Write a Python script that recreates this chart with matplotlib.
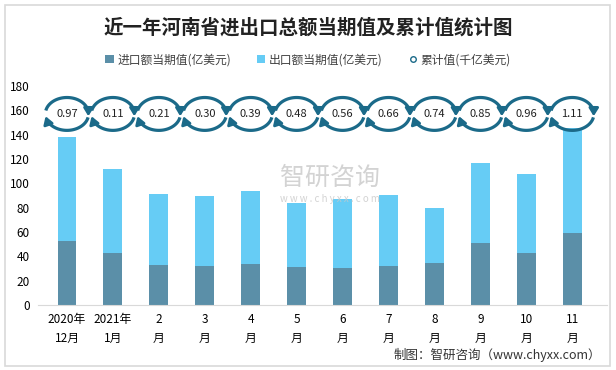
import matplotlib.pyplot as plt
from matplotlib.patches import Rectangle
import numpy as np

plt.rcParams['font.family'] = ['Noto Sans CJK SC', 'DejaVu Sans']

# data
months = ['2020年\n12月', '2021年\n1月', '2\n月', '3\n月', '4\n月', '5\n月',
          '6\n月', '7\n月', '8\n月', '9\n月', '10\n月', '11\n月']
imports = [52.6, 42.7, 32.9, 32.1, 33.7, 31.2, 30.4, 32.1, 34.5, 50.9, 42.7, 59.2]
totals = [138.0, 111.8, 91.2, 89.6, 93.7, 83.8, 87.1, 90.4, 79.7, 116.7, 107.6, 145.4]
exports = [t - i for t, i in zip(totals, imports)]
cumulative = ['0.97', '0.11', '0.21', '0.30', '0.39', '0.48', '0.56', '0.66',
              '0.74', '0.85', '0.96', '1.11']

c_imp = '#5b8fa8'
c_exp = '#66ccf5'
c_ring = '#1b6a89'

fig = plt.figure(figsize=(6.16, 3.70), dpi=100)
fig.patches.append(Rectangle((0.008, 0.012), 0.982, 0.975, transform=fig.transFigure,
                             fill=False, edgecolor='#d9d9d9', linewidth=1.2))

ax = fig.add_axes([0.0617, 0.1757, 0.924, 0.592])
x = np.arange(len(months))
b1 = ax.bar(x, imports, width=0.41, color=c_imp, label='进口额当期值(亿美元)', zorder=2)
b2 = ax.bar(x, exports, width=0.41, bottom=imports, color=c_exp, label='出口额当期值(亿美元)', zorder=2)

# cumulative value rings: two clockwise arrows around each label
ring_y = 157
rx, ry = 0.47, 13.5


def ring_arc(xc, a0, a1):
    t = np.radians(np.linspace(a0, a1, 60))
    xs = xc + rx * np.cos(t)
    ys = ring_y + ry * np.sin(t)
    ax.plot(xs[:-4], ys[:-4], color=c_ring, lw=2.3, solid_capstyle='butt', zorder=4)
    ax.annotate('', xy=(xs[-1], ys[-1]), xytext=(xs[-6], ys[-6]),
                arrowprops=dict(arrowstyle='-|>,head_length=0.45,head_width=0.28',
                                color=c_ring, lw=2.0, shrinkA=0, shrinkB=0), zorder=4)


for xi, lab in zip(x, cumulative):
    ring_arc(xi, 168, -8)
    ring_arc(xi, 348, 188)
    ax.text(xi, ring_y, lab, ha='center', va='center', fontsize=8, color='#222222', zorder=5)

ring_handle, = ax.plot([], [], 'o', markerfacecolor='white', markeredgecolor=c_ring,
                       markersize=4, label='累计值(千亿美元)')

ax.set_xlim(-0.63, 11.76)
ax.set_ylim(0, 180)
ax.set_yticks(range(0, 181, 20))
ax.set_xticks(x)
ax.set_xticklabels(months, fontsize=8.5, linespacing=1.6)
ax.tick_params(axis='y', labelsize=8.5, length=0, pad=6)
ax.tick_params(axis='x', length=0, pad=6)
for s in ['top', 'right', 'left']:
    ax.spines[s].set_visible(False)
ax.spines['bottom'].set_color('#d9d9d9')

fig.text(0.5, 0.925, '近一年河南省进出口总额当期值及累计值统计图', ha='center', va='center',
         fontsize=14, fontweight='bold', color='#222222')
fig.legend(handles=[b1, b2, ring_handle], loc='center', bbox_to_anchor=(0.5, 0.838), ncol=3,
           frameon=False, fontsize=8.5, handlelength=0.7, handleheight=0.7, handletextpad=0.3,
           columnspacing=2.2, labelcolor='#404040')

# watermark
fig.text(0.535, 0.52, '智研咨询', ha='center', va='center', fontsize=18, color='#c8c8c8', alpha=0.8)
fig.text(0.535, 0.462, 'w w w . c h y x x . c o m', ha='center', va='center', fontsize=7,
         color='#c8c8c8', alpha=0.8)

fig.text(0.975, 0.04, '制图：智研咨询（www.chyxx.com）', ha='right', va='center', fontsize=9,
         color='#333333')

fig.savefig('out.png', dpi=100)
